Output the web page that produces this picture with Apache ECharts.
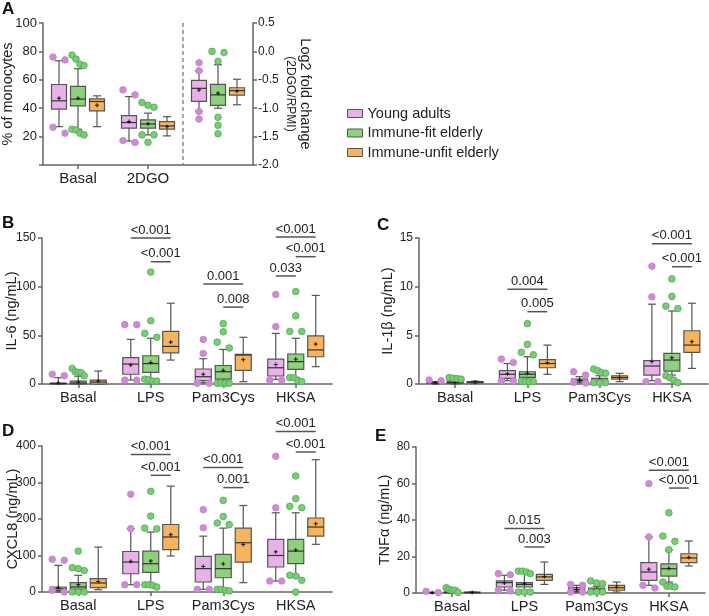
<!DOCTYPE html>
<html>
<head>
<meta charset="utf-8">
<script src="https://cdn.jsdelivr.net/npm/echarts@6/dist/echarts.min.js"></script>
<style>
html, body { margin: 0; padding: 0; background: #fff; }
#main { width: 709px; height: 616px; }
</style>
</head>
<body>
<div id="main"></div>
<script>
// 数据：每行 [下须, Q1, 中位数, Q3, 上须, 均值]，dots = 须外的点
var groupNames = ['Young adults', 'Immune-fit elderly', 'Immune-unfit elderly'];
var catsA = ['Basal', '2DGO', ''];
var cats = ['Basal', 'LPS', 'Pam3Cys', 'HKSA'];

// A: % of monocytes (Basal, 2DGO)
var pctYoung = [[27, 39.3, 45.2, 56.7, 73.4, 47], [16.9, 25.9, 29.9, 34.8, 48.2, 30.6]];
var pctYoungDots = [[76, 74, 26.6, 22.4], [52.9, 49.4, 17.2, 15.8]];
var pctFit = [[25.2, 41.6, 46.4, 55.3, 67.8, 47], [21.2, 25.9, 28.9, 31.8, 36.5, 29]];
var pctFitDots = [[77.4, 74.6, 71, 70, 25.2, 24.7, 22.4, 21.2], [44, 42.1, 40.7, 21.2, 21.2, 16]];
var pctUnfit = [[27, 38.1, 44.7, 46.6, 48.7, 42.1], [20.5, 25.2, 27.5, 30.6, 34, 27]];
var pctUnfitDots = [[], []];
// A: Log2 fold change (2DGO/RPMI)
var foldYoung = [-1.06, -0.88, -0.65, -0.51, -0.34, -0.68];
var foldYoungDots = [-0.2, -0.34, -1.06, -1.19];
var foldFit = [-1.0, -0.95, -0.765, -0.58, -0.235, -0.735];
var foldFitDots = [0, -0.02, -0.175, -1.16, -1.3, -1.45];
var foldUnfit = [-0.94, -0.77, -0.69, -0.64, -0.49, -0.7];
var foldUnfitDots = [];

// B: IL-6
var il6Young = [[0, 0, 0.5, 1, 6.5, 1], [4, 10, 20.5, 27, 45.8, 19.5], [1.4, 3.4, 7.5, 15.4, 26, 10], [4.8, 8.2, 16.7, 25.6, 52, 20]];
var il6YoungDots = [[8.5, 10], [61, 61, 4, 4], [45.8, 31.4, 0.7, 0.7], [92, 59, 4, 4]];
var il6Fit = [[0, 0, 1, 3, 8, 2], [5, 12, 21, 29, 47, 22], [1.4, 5, 12.6, 19, 35.5, 14], [6.8, 15, 23, 30.8, 47, 25.5]];
var il6FitDots = [[8.5, 11.6, 12, 16, 12.6], [115, 65, 52, 48, 3, 5, 4.5, 3], [62, 53.6, 43, 37, 0.7, 0.7, 0.7, 0.7], [95, 70, 54, 54, 6.5, 6.5, 3.4, 2.4]];
var il6Unfit = [[0, 0, 2, 4, 13.3, 3], [24.6, 32, 38.6, 54, 83, 43], [2.4, 14, 29.7, 30.4, 48, 25], [17.8, 28, 35, 49.5, 91, 41]];
var il6UnfitDots = [[], [], [], []];
// [类别, y, 起组, 止组, 文本]
var il6Sig = [[1, 150, 0, 2, '<0.001'], [1, 125.6, 1, 2, '<0.001'], [2, 102.7, 0, 2, '0.001'], [2, 79, 1, 2, '0.008'],
  [3, 151, 0, 2, '<0.001'], [3, 130.8, 1, 2, '<0.001'], [3, 111, 0, 1, '0.033']];

// C: IL-1β
var il1bYoung = [[0, 0.05, 0.1, 0.2, 0.25, 0.12], [0.34, 0.58, 1.0, 1.37, 2.1, 1.05], [0.14, 0.2, 0.34, 0.5, 0.75, 0.4], [0.34, 0.92, 1.85, 2.4, 8.2, 2.3]];
var il1bYoungDots = [[0.34, 0.41], [2.2, 2.56, 0.34, 0.3], [0.92, 1.26, 0.15, 0.1], [12.1, 8.95, 0.24, 0.24]];
var il1bFit = [[0, 0.05, 0.15, 0.25, 0.4, 0.17], [0.34, 0.68, 1.0, 1.26, 2.8, 1.1], [0.14, 0.24, 0.34, 0.58, 0.85, 0.45], [0.92, 1.33, 2.46, 3.14, 7.5, 2.7]];
var il1bFitDots = [[0.5, 0.6, 0.65, 0.55], [6.2, 4.07, 3.25, 3.0, 0.24, 0.24, 0.24, 0.3], [1.54, 1.37, 1.1, 1.16, 0.14, 0.14, 0.14], [10.8, 9.0, 8.0, 7.75, 0.85, 0.65, 0.4, 0.14]];
var il1bUnfit = [[0.1, 0.12, 0.2, 0.25, 0.3, 0.2], [1.0, 1.67, 2.1, 2.5, 4.0, 2.2], [0.24, 0.5, 0.68, 0.85, 1.1, 0.65], [1.6, 3.25, 4.0, 5.47, 8.3, 4.35]];
var il1bUnfitDots = [[], [], [], []];
var il1bSig = [[1, 9.73, 0, 2, '0.004'], [1, 7.43, 1, 2, '0.005'], [3, 14.4, 0, 2, '<0.001'], [3, 12.05, 1, 2, '<0.001']];

// D: CXCL8
var cxYoung = [[0, 4.6, 9, 13.7, 73, 12], [20, 50, 82, 111, 173.5, 84], [7.3, 27.4, 64, 97.7, 153, 70], [30, 68.5, 100, 144, 217, 110]];
var cxYoungDots = [[87, 89.5, 4.6, 0], [268, 173.5, 20, 20], [225.6, 176, 7.3, 7.3], [371.7, 231, 30, 30]];
var cxFit = [[0, 7.3, 13.7, 25.6, 45.7, 20], [20, 54, 77.6, 112, 164, 85], [7.3, 39, 64, 103, 175, 77], [43.8, 77.6, 112, 144, 217, 115]];
var cxFitDots = [[112, 64, 66.7, 59, 0, 0, 0], [275.8, 208, 175, 173, 13.7, 18, 20, 20], [251, 207, 189, 184.5, 3, 5, 7.3, 7.3], [318, 255.7, 234.7, 231, 43.8, 45.7, 32, 0]];
var cxUnfit = [[6.4, 12, 24.7, 36.5, 123, 29], [98.6, 116, 150.7, 185, 290, 157], [25.6, 82, 135, 175, 237, 130], [130.6, 153, 178, 202.7, 362.5, 187]];
var cxUnfitDots = [[], [], [], []];
var cxSig = [[1, 376.4, 0, 2, '<0.001'], [1, 319.7, 1, 2, '<0.001'], [2, 340.8, 0, 2, '<0.001'], [2, 286, 1, 2, '0.001'],
  [3, 440, 0, 2, '<0.001'], [3, 383.6, 1, 2, '<0.001']];

// E: TNFα
var tnfYoung = [[0, 0.05, 0.2, 0.3, 0.4, 0.2], [1.5, 3.3, 5.7, 6.6, 9.7, 5.5], [0.5, 0.9, 1.8, 2.9, 4.2, 2], [4.2, 6.9, 11.5, 16.6, 30.7, 13]];
var tnfYoungDots = [[0.2, 0.9], [10.6, 10, 1.5, 1.1], [4.7, 4.2, 0.5, 0.5], [59.9, 30.7, 2.7, 4.2]];
var tnfFit = [[0.1, 0.2, 0.3, 0.6, 1, 0.4], [1.5, 3.3, 4.7, 5.7, 11, 5], [0.5, 0.9, 1.8, 2.7, 3.7, 2.2], [6, 9.3, 13.3, 16, 23.7, 13.5]];
var tnfFitDots = [[2.9, 2, 1.5, 1.5, 0.3], [12, 11.5, 10.6, 12, 0.5, 0.5, 0.5], [6.6, 5.1, 5.5, 0.5, 0.5, 0.5], [44, 31.2, 28.3, 23.7, 6, 3.3, 3.7, 3.7]];
var tnfUnfit = [[0.1, 0.2, 0.3, 0.5, 0.6, 0.3], [4.7, 6.9, 8.8, 10.2, 17, 9], [0.5, 1.5, 2.9, 4.2, 6, 3.2], [14.8, 16.6, 19.2, 21.5, 28.5, 19.5]];
var tnfUnfitDots = [[], [], [], []];
var tnfSig = [[1, 35.3, 0, 2, '0.015'], [1, 25.2, 1, 2, '0.003'], [3, 67.2, 0, 2, '<0.001'], [3, 57.5, 1, 2, '<0.001']];

var FONT = '"Liberation Sans", Arial, Helvetica, sans-serif';
var fills = ['#e8b2e8', '#8fd07f', '#f7b45e'];
var dotFills = ['#cc8bd2', '#7ccb78', '#f7b45e'];
var dotStrokes = ['#c483ca', '#4daa4d', '#c88a3a'];
var EDGE = '#555';
var AXIS = '#666';

var chart = echarts.init(document.getElementById('main'));

// 箱线图（自定义系列）
function boxSeries(g, xi, yi, catIdx, rows, step, bw) {
  return {
    type: 'custom', name: groupNames[g], xAxisIndex: xi, yAxisIndex: yi, z: 2,
    itemStyle: { color: fills[g] },
    data: rows.map(function (r, i) { return [catIdx[i]].concat(r); }),
    encode: { x: 0, y: [1, 2, 3, 4, 5, 6] },
    renderItem: function (params, api) {
      var cat = api.value(0);
      var cx = api.coord([cat, 0])[0] + (g - 1) * step;
      function py(k) { return api.coord([cat, api.value(k)])[1]; }
      var lo = py(1), q1 = py(2), md = py(3), q3 = py(4), hi = py(5), mn = py(6);
      var h = bw / 2, c = 4;
      var ls = { stroke: EDGE, lineWidth: 1.2 };
      return { type: 'group', children: [
        { type: 'line', shape: { x1: cx, y1: lo, x2: cx, y2: hi }, style: ls },
        { type: 'line', shape: { x1: cx - c, y1: lo, x2: cx + c, y2: lo }, style: ls },
        { type: 'line', shape: { x1: cx - c, y1: hi, x2: cx + c, y2: hi }, style: ls },
        { type: 'rect', shape: { x: cx - h, y: q3, width: bw, height: Math.max(q1 - q3, 0.8) },
          style: { fill: fills[g], stroke: EDGE, lineWidth: 1.2 } },
        { type: 'line', shape: { x1: cx - h, y1: md, x2: cx + h, y2: md }, style: { stroke: '#333', lineWidth: 1.2 } },
        { type: 'line', shape: { x1: cx - 2, y1: mn, x2: cx + 2, y2: mn }, style: { stroke: '#111', lineWidth: 1 } },
        { type: 'line', shape: { x1: cx, y1: mn - 2, x2: cx, y2: mn + 2 }, style: { stroke: '#111', lineWidth: 1 } }
      ] };
    }
  };
}

// 离群点，值相近的点左右错开
function dotSeries(g, xi, yi, catIdx, lists, step) {
  return {
    type: 'custom', xAxisIndex: xi, yAxisIndex: yi, z: 3,
    data: lists.map(function (d, i) { return [catIdx[i], d.length ? d[0] : 0]; }),
    renderItem: function (params, api) {
      var cat = api.value(0), list = lists[params.dataIndex];
      var cx = api.coord([cat, 0])[0] + (g - 1) * step;
      var pts = list.map(function (v) { return api.coord([cat, v])[1]; }).sort(function (a, b) { return a - b; });
      var children = [], i = 0;
      while (i < pts.length) {
        var j = i;
        while (j + 1 < pts.length && pts[j + 1] - pts[j] < 6) j++;
        var n = j - i + 1;
        for (var k = 0; k < n; k++) {
          var dx = n === 1 ? 0 : -6 + 12 * k / (n - 1);
          children.push({ type: 'circle', shape: { cx: cx + dx, cy: pts[i + k], r: 3.3 },
            style: { fill: dotFills[g], stroke: dotStrokes[g], lineWidth: 0.8 } });
        }
        i = j + 1;
      }
      return { type: 'group', children: children };
    }
  };
}

// 显著性标注
function sigSeries(xi, yi, rows, step) {
  return {
    type: 'custom', xAxisIndex: xi, yAxisIndex: yi, clip: false, z: 4,
    data: rows.map(function (r) { return [r[0], r[1], r[2], r[3]]; }),
    renderItem: function (params, api) {
      var p = api.coord([api.value(0), api.value(1)]);
      var x1 = p[0] + (api.value(2) - 1) * step, x2 = p[0] + (api.value(3) - 1) * step;
      return { type: 'group', children: [
        { type: 'line', shape: { x1: x1, y1: p[1], x2: x2, y2: p[1] }, style: { stroke: '#555', lineWidth: 1.5 } },
        { type: 'text', style: { text: rows[params.dataIndex][4], x: (x1 + x2) / 2, y: p[1] - 8,
          align: 'center', verticalAlign: 'middle', fill: '#222', font: '13px ' + FONT } }
      ] };
    }
  };
}

function xAxisOf(gi, data, labelSize) {
  return {
    type: 'category', gridIndex: gi, data: data, boundaryGap: true,
    axisLine: { show: true, lineStyle: { color: AXIS, width: 1.5 } },
    axisTick: { show: true, alignWithLabel: true, length: 4, lineStyle: { color: AXIS, width: 1.5 } },
    axisLabel: { interval: 0, hideOverlap: false, fontSize: labelSize, color: '#222', fontFamily: FONT, margin: 6 },
    splitLine: { show: false }
  };
}

function yAxisOf(gi, max, interval, name, gap) {
  return {
    type: 'value', gridIndex: gi, min: 0, max: max, interval: interval,
    name: name, nameLocation: 'middle', nameGap: gap, nameMoveOverlap: false,
    nameTextStyle: { fontSize: 14.5, color: '#222', fontFamily: FONT },
    axisLine: { show: true, lineStyle: { color: AXIS, width: 1.5 } },
    axisTick: { show: true, length: 4, lineStyle: { color: AXIS, width: 1.5 } },
    axisLabel: { fontSize: 12, color: '#222', fontFamily: FONT, margin: 6 },
    splitLine: { show: false }
  };
}

var xAxes = [xAxisOf(0, catsA, 15), xAxisOf(1, cats, 14.5), xAxisOf(2, cats, 14.5), xAxisOf(3, cats, 14.5), xAxisOf(4, cats, 14.5)];
xAxes[0].axisTick.interval = function (index) { return index < 2; };

var yA = yAxisOf(0, 100, 20, '% of monocytes', 28);
yA.axisLabel.fontSize = 13;
yA.axisLabel.formatter = function (v) { return v === 0 ? '' : v; };
var yFold = {
  type: 'value', gridIndex: 0, position: 'right', min: -2, max: 0.5, interval: 0.5,
  axisLine: { show: true, lineStyle: { color: AXIS, width: 1.5 } },
  axisTick: { show: true, length: 4, lineStyle: { color: AXIS, width: 1.5 } },
  axisLabel: { fontSize: 12, color: '#222', fontFamily: FONT, margin: 5, formatter: function (v) { return v.toFixed(1); } },
  splitLine: { show: false }
};
var yAxes = [yA, yFold,
  yAxisOf(1, 150, 50, 'IL-6 (ng/mL)', 23),
  yAxisOf(2, 15, 5, 'IL-1β (ng/mL)', 24),
  yAxisOf(3, 400, 100, 'CXCL8 (ng/mL)', 22),
  yAxisOf(4, 80, 20, 'TNFα (ng/mL)', 24)];

var series = [];
var pctRows = [pctYoung, pctFit, pctUnfit], pctDots = [pctYoungDots, pctFitDots, pctUnfitDots];
var foldRows = [foldYoung, foldFit, foldUnfit], foldDots = [foldYoungDots, foldFitDots, foldUnfitDots];
for (var g = 0; g < 3; g++) {
  series.push(boxSeries(g, 0, 0, [0, 1], pctRows[g], 19, 15));
  series.push(dotSeries(g, 0, 0, [0, 1], pctDots[g], 19));
  series.push(boxSeries(g, 0, 1, [2], [foldRows[g]], 19, 15));
  series.push(dotSeries(g, 0, 1, [2], [foldDots[g]], 19));
}
// A 中的虚线分隔
series.push({
  type: 'custom', xAxisIndex: 0, yAxisIndex: 0, data: [[1, 0]],
  renderItem: function (params, api) {
    var x = (api.coord([1, 0])[0] + api.coord([2, 0])[0]) / 2;
    var cs = params.coordSys;
    return { type: 'line', shape: { x1: x, y1: cs.y, x2: x, y2: cs.y + cs.height },
      style: { stroke: '#777', lineWidth: 1.3, lineDash: [4, 3] } };
  }
});

var panels = [
  { rows: [il6Young, il6Fit, il6Unfit], dots: [il6YoungDots, il6FitDots, il6UnfitDots], sig: il6Sig },
  { rows: [il1bYoung, il1bFit, il1bUnfit], dots: [il1bYoungDots, il1bFitDots, il1bUnfitDots], sig: il1bSig },
  { rows: [cxYoung, cxFit, cxUnfit], dots: [cxYoungDots, cxFitDots, cxUnfitDots], sig: cxSig },
  { rows: [tnfYoung, tnfFit, tnfUnfit], dots: [tnfYoungDots, tnfFitDots, tnfUnfitDots], sig: tnfSig }
];
panels.forEach(function (p, k) {
  var xi = k + 1, yi = k + 2;
  for (var g = 0; g < 3; g++) {
    series.push(boxSeries(g, xi, yi, [0, 1, 2, 3], p.rows[g], 20, 16));
    series.push(dotSeries(g, xi, yi, [0, 1, 2, 3], p.dots[g], 20));
  }
  series.push(sigSeries(xi, yi, p.sig, 20));
});

var option = {
  animation: false,
  textStyle: { fontFamily: FONT },
  grid: [
    { left: 43, top: 23, width: 210, height: 142, containLabel: false, outerBoundsMode: 'none' },
    { left: 42, top: 238, width: 290, height: 146, containLabel: false, outerBoundsMode: 'none' },
    { left: 419, top: 238, width: 289, height: 146, containLabel: false, outerBoundsMode: 'none' },
    { left: 42, top: 446, width: 290, height: 146, containLabel: false, outerBoundsMode: 'none' },
    { left: 416, top: 447, width: 289, height: 146, containLabel: false, outerBoundsMode: 'none' }
  ],
  xAxis: xAxes,
  yAxis: yAxes,
  legend: {
    orient: 'vertical', left: 342, top: 101, itemWidth: 15, itemHeight: 8, itemGap: 4.5,
    icon: 'rect', selectedMode: false,
    textStyle: { fontSize: 14.5, color: '#222', fontFamily: FONT },
    data: groupNames.map(function (n, i) {
      return { name: n, itemStyle: { color: fills[i], borderColor: EDGE, borderWidth: 1 } };
    })
  },
  graphic: [
    { type: 'text', x: 2, y: 1, style: { text: 'A', font: 'bold 17px ' + FONT, fill: '#111' } },
    { type: 'text', x: 2, y: 215, style: { text: 'B', font: 'bold 17px ' + FONT, fill: '#111' } },
    { type: 'text', x: 377, y: 217, style: { text: 'C', font: 'bold 17px ' + FONT, fill: '#111' } },
    { type: 'text', x: 2, y: 423, style: { text: 'D', font: 'bold 17px ' + FONT, fill: '#111' } },
    { type: 'text', x: 375, y: 428, style: { text: 'E', font: 'bold 17px ' + FONT, fill: '#111' } },
    { type: 'text', x: 305, y: 94, rotation: -Math.PI / 2,
      style: { text: 'Log2 fold change', x: 0, y: 0, align: 'center', verticalAlign: 'middle', font: '14.5px ' + FONT, fill: '#222' } },
    { type: 'text', x: 290, y: 94, rotation: -Math.PI / 2,
      style: { text: '(2DGO/RPMI)', x: 0, y: 0, align: 'center', verticalAlign: 'middle', font: '12px ' + FONT, fill: '#222' } }
  ],
  series: series
};

chart.setOption(option);
</script>
</body>
</html>
